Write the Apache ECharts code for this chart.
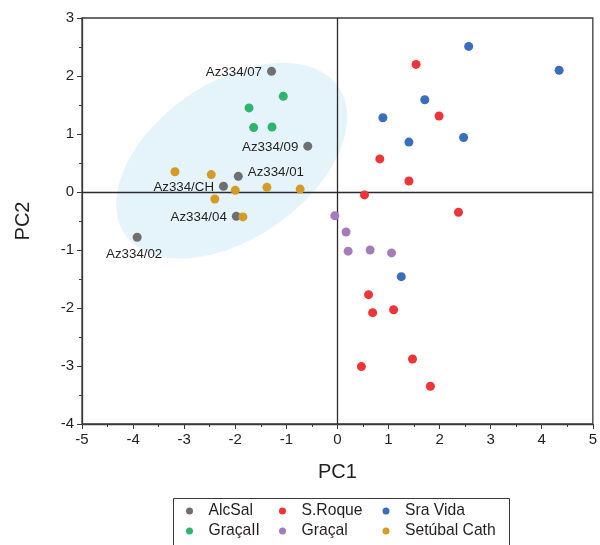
<!DOCTYPE html>
<html>
<head>
<meta charset="utf-8">
<script src="https://cdn.jsdelivr.net/npm/echarts@6/dist/echarts.min.js"></script>
<style>html,body{margin:0;padding:0;background:#fff}#c{width:600px;height:545px}</style>
</head>
<body>
<div id="c"></div>
<script>
// ---- data ----
var seriesNames = ['AlcSal', 'S.Roque', 'Sra Vida', 'GraçaII', 'Graçal', 'Setúbal Cath'];

var alcSalX = [-1.29, -0.58, -1.94, -2.23, -1.98, -3.92];
var alcSalY = [2.08, 0.79, 0.27, 0.10, -0.42, -0.78];
var alcSalLabels = ['Az334/07', 'Az334/09', 'Az334/01', 'Az334/CH', 'Az334/04', 'Az334/02'];

var sRoqueX = [1.54, 1.99, 0.83, 1.40, 0.53, 2.37, 0.61, 0.69, 1.10, 1.47, 0.47, 1.82];
var sRoqueY = [2.20, 1.31, 0.57, 0.19, -0.05, -0.35, -1.77, -2.08, -2.03, -2.88, -3.01, -3.35];

var sraVidaX = [2.57, 4.34, 1.71, 0.89, 1.40, 2.47, 1.25];
var sraVidaY = [2.51, 2.10, 1.59, 1.28, 0.86, 0.94, -1.46];

var gracaIIX = [-1.06, -1.73, -1.64, -1.28];
var gracaIIY = [1.65, 1.45, 1.11, 1.12];

var gracalX = [-0.05, 0.17, 0.21, 0.64, 1.06];
var gracalY = [-0.41, -0.69, -1.02, -1.00, -1.05];

var setubalX = [-3.18, -2.47, -2.00, -1.38, -0.73, -2.40, -1.85];
var setubalY = [0.35, 0.30, 0.03, 0.08, 0.05, -0.12, -0.43];

// confidence ellipse: centre and two conjugate semi-axes (data units)
var ellipseCenter = [-2.07, 0.54];
var ellipseAxisU = [2.09, 1.27];
var ellipseAxisV = [0.86, -1.11];

var xTicks = [-5, -4, -3, -2, -1, 0, 1, 2, 3, 4, 5];
var yTicks = [-4, -3, -2, -1, 0, 1, 2, 3];

// ---- styles ----
var colors = {
  'AlcSal': '#6f6f72',
  'S.Roque': '#ee3437',
  'Sra Vida': '#3a6ebd',
  'GraçaII': '#2db56e',
  'Graçal': '#a47cba',
  'Setúbal Cath': '#d49b27'
};
var labelPos = ['left', 'left', 'right', 'left', 'left', 'bottom'];
var FONT = '"Liberation Sans", Arial, sans-serif';

function pts(xs, ys) { return xs.map(function (x, i) { return [x, ys[i]]; }); }

function scatter(name, xs, ys, extra) {
  var s = {
    name: name, type: 'scatter', symbol: 'circle', symbolSize: 9,
    itemStyle: { color: colors[name], opacity: 1 },
    data: pts(xs, ys), z: 5
  };
  if (extra) for (var k in extra) s[k] = extra[k];
  return s;
}

var alcData = pts(alcSalX, alcSalY).map(function (p, i) {
  var pos = labelPos[i];
  return {
    value: p,
    label: {
      show: true, position: pos, formatter: alcSalLabels[i],
      distance: pos === 'bottom' ? 6 : 5,
      offset: pos === 'right' ? [0, -4] : (pos === 'bottom' ? [-3, 0] : [0, 1])
    }
  };
});

var series = [
  {
    name: 'ellipse', type: 'custom', z: 1, silent: true,
    data: [[ellipseCenter[0], ellipseCenter[1]]],
    renderItem: function (params, api) {
      var points = [];
      for (var i = 0; i <= 180; i++) {
        var t = i / 180 * Math.PI * 2;
        var x = ellipseCenter[0] + ellipseAxisU[0] * Math.cos(t) + ellipseAxisV[0] * Math.sin(t);
        var y = ellipseCenter[1] + ellipseAxisU[1] * Math.cos(t) + ellipseAxisV[1] * Math.sin(t);
        points.push(api.coord([x, y]));
      }
      return { type: 'polygon', shape: { points: points }, style: { fill: '#e5f4fb', stroke: null } };
    }
  },
  {
    name: 'zero', type: 'line', data: [], z: 3, silent: true,
    markLine: {
      silent: true, symbol: 'none', animation: false,
      label: { show: false },
      lineStyle: { color: '#2b2b2b', width: 1.3, type: 'solid' },
      data: [{ xAxis: 0 }, { yAxis: 0 }]
    }
  },
  scatter('AlcSal', alcSalX, alcSalY, {
    data: alcData,
    label: { color: '#231f20', fontSize: 13.3, fontFamily: FONT }
  }),
  scatter('S.Roque', sRoqueX, sRoqueY),
  scatter('Sra Vida', sraVidaX, sraVidaY),
  scatter('GraçaII', gracaIIX, gracaIIY),
  scatter('Graçal', gracalX, gracalY),
  scatter('Setúbal Cath', setubalX, setubalY)
];

function legend(names, left) {
  return {
    data: names, orient: 'vertical', left: left, top: 501, padding: 0,
    height: 44,
    icon: 'circle', itemWidth: 7, itemHeight: 7, itemGap: 0,
    textStyle: { fontSize: 15.7, fontFamily: FONT, color: '#231f20', lineHeight: 20, padding: [0, 0, 0, 10.5] },
    selectedMode: false
  };
}

var option = {
  animation: false,
  backgroundColor: '#fff',
  grid: { left: 82, right: 5, top: 18, bottom: 121, show: true, borderColor: '#3a3a3a', borderWidth: 1.3, backgroundColor: 'transparent' },
  xAxis: {
    type: 'value', min: xTicks[0], max: xTicks[xTicks.length - 1], interval: 1,
    name: 'PC1', nameLocation: 'middle', nameGap: 38,
    nameTextStyle: { fontSize: 20, fontFamily: FONT, color: '#231f20' },
    axisLine: { show: true, onZero: false, lineStyle: { color: '#3a3a3a', width: 1.3 } },
    axisTick: { show: true, inside: false, length: 5, lineStyle: { color: '#3a3a3a' } },
    minorTick: { show: true, splitNumber: 2, length: 3, lineStyle: { color: '#3a3a3a' } },
    axisLabel: { fontSize: 15, fontFamily: FONT, color: '#231f20', margin: 8 },
    splitLine: { show: false }
  },
  yAxis: {
    type: 'value', min: yTicks[0], max: yTicks[yTicks.length - 1], interval: 1,
    name: 'PC2', nameLocation: 'middle', nameGap: 49,
    nameTextStyle: { fontSize: 20, fontFamily: FONT, color: '#231f20' },
    axisLine: { show: true, onZero: false, lineStyle: { color: '#3a3a3a', width: 1.3 } },
    axisTick: { show: true, inside: false, length: 5, lineStyle: { color: '#3a3a3a' } },
    minorTick: { show: true, splitNumber: 2, length: 3, lineStyle: { color: '#3a3a3a' } },
    axisLabel: { fontSize: 15, fontFamily: FONT, color: '#231f20', margin: 8 },
    splitLine: { show: false }
  },
  legend: [
    legend(['AlcSal', 'GraçaII'], 186),
    legend(['S.Roque', 'Graçal'], 279),
    legend(['Sra Vida', 'Setúbal Cath'], 382.5)
  ],
  graphic: [{
    type: 'rect', left: 171, top: 496, silent: true,
    shape: { width: 336, height: 60 },
    style: { fill: null, stroke: '#3a3a3a', lineWidth: 1 }
  }],
  series: series
};

var chart = echarts.init(document.getElementById('c'), null, { renderer: 'canvas' });
chart.setOption(option);
</script>
</body>
</html>
